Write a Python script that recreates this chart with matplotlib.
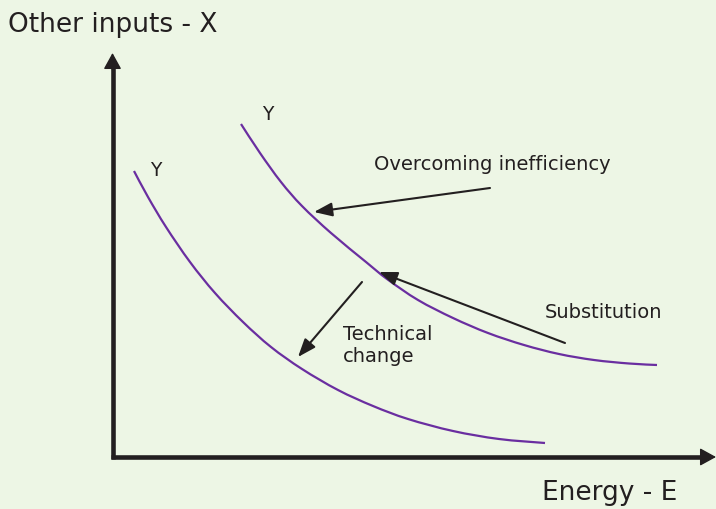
import matplotlib
matplotlib.use("Agg")
import matplotlib.pyplot as plt
from matplotlib.path import Path
from matplotlib.patches import PathPatch

# Isoquant curves (in pixel-like units)
outer_x = [241, 260, 281, 302, 331, 366, 387, 418, 453, 488, 524, 559, 594, 629, 657]
outer_y = [124, 153, 182, 206, 233, 262, 279, 300, 318, 333, 345, 354, 360, 363.5, 365]
inner_x = [134, 148, 166, 190, 215, 243, 271, 302, 338, 373, 408, 453, 499, 545]
inner_y = [171, 197, 227, 262, 293, 322, 347, 369, 390, 406, 419, 431, 439, 443]

curve_labels = ["Y", "Y"]
x_axis_label = "Energy - E"
y_axis_label = "Other inputs - X"
arrow_labels = ["Overcoming inefficiency", "Substitution", "Technical\nchange"]

BG = "#edf6e5"
PURPLE = "#6a2ea0"
INK = "#231f20"


def smooth_path(xs, ys):
    """Catmull-Rom curve through the given points, drawn as cubic Beziers."""
    pts = list(zip(xs, ys))
    verts = [pts[0]]
    codes = [Path.MOVETO]
    n = len(pts)
    for i in range(n - 1):
        p0 = pts[i - 1] if i > 0 else pts[i]
        p1 = pts[i]
        p2 = pts[i + 1]
        p3 = pts[i + 2] if i + 2 < n else pts[i + 1]
        c1 = (p1[0] + (p2[0] - p0[0]) / 6.0, p1[1] + (p2[1] - p0[1]) / 6.0)
        c2 = (p2[0] - (p3[0] - p1[0]) / 6.0, p2[1] - (p3[1] - p1[1]) / 6.0)
        verts += [c1, c2, p2]
        codes += [Path.CURVE4] * 3
    return Path(verts, codes)


fig = plt.figure(figsize=(7.16, 5.09), dpi=100, facecolor=BG)
ax = fig.add_axes([0, 0, 1, 1])
ax.set_facecolor(BG)
ax.set_xlim(0, 716)
ax.set_ylim(509, 0)
ax.axis("off")

# Axes lines
ax.plot([112.5, 112.5], [459.3, 60], color=INK, lw=3.3, solid_capstyle="butt")
ax.plot([110.8, 706], [457, 457], color=INK, lw=3.3, solid_capstyle="butt")
head = dict(arrowstyle="-|>,head_length=1.0,head_width=0.55", color=INK, lw=1.0,
            shrinkA=0, shrinkB=0, mutation_scale=10)
ax.annotate("", xy=(112.5, 53), xytext=(112.5, 70), arrowprops=head)
ax.annotate("", xy=(716, 457), xytext=(700, 457), arrowprops=head)

# Curves
for xs, ys in ((outer_x, outer_y), (inner_x, inner_y)):
    ax.add_patch(PathPatch(smooth_path(xs, ys), facecolor="none", edgecolor=PURPLE,
                           lw=1.6, capstyle="butt"))

# Curve labels
ax.text(268, 114, curve_labels[0], fontsize=13.5, color=INK, ha="center", va="center")
ax.text(156, 171, curve_labels[1], fontsize=13.5, color=INK, ha="center", va="center")

# Arrow annotations
aprops = dict(arrowstyle="-|>,head_length=1.0,head_width=0.38", color=INK, lw=1.5,
              shrinkA=0, shrinkB=0, mutation_scale=11)
ax.annotate("", xy=(314, 212), xytext=(490, 188), arrowprops=aprops)
ax.annotate("", xy=(379, 272), xytext=(565, 343), arrowprops=aprops)
ax.annotate("", xy=(298, 357), xytext=(362, 282), arrowprops=aprops)

ax.text(374, 165, arrow_labels[0], fontsize=14, color=INK, ha="left", va="center")
ax.text(545, 312, arrow_labels[1], fontsize=14, color=INK, ha="left", va="center")
ax.text(343, 345, arrow_labels[2], fontsize=14, color=INK, ha="left", va="center",
        linespacing=1.2)

# Axis titles
ax.text(8, 25, y_axis_label, fontsize=19, color=INK, ha="left", va="center")
ax.text(542, 493, x_axis_label, fontsize=19, color=INK, ha="left", va="center")

fig.savefig("out.png", dpi=100, facecolor=BG)
